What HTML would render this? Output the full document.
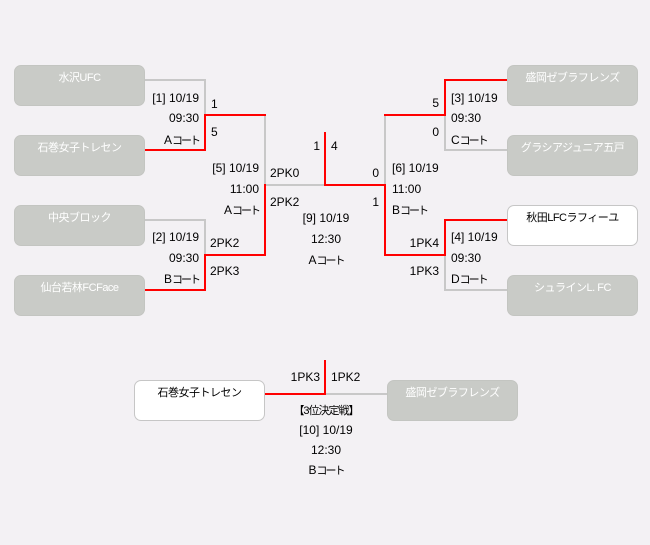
<!DOCTYPE html>
<html>
<head>
<meta charset="utf-8">
<style>
html,body{margin:0;padding:0;}
body{width:650px;height:545px;background:#f3f1f4;position:relative;overflow:hidden;font-family:"Liberation Sans","Noto Sans CJK JP",sans-serif;}
.b{position:absolute;box-sizing:border-box;width:131px;height:41px;border-radius:7px;font-size:11px;line-height:14px;text-align:center;padding-top:5px;letter-spacing:-0.5px;}
.g{background:#c9cbc7;border:1px solid #c3c5c1;color:#fff;}
.w{background:#fff;border:1px solid #c6c6c6;color:#000;}
.t{position:absolute;font-size:12px;line-height:14px;color:#000;white-space:nowrap;}
.r{text-align:right;}
.c{width:120px;text-align:center;}
.k{font-size:11px;letter-spacing:-2px;}
svg{position:absolute;left:0;top:0;}
</style>
</head>
<body>
<svg width="650" height="545" viewBox="0 0 650 545">
<g fill="none" stroke-width="2" stroke-linejoin="miter" stroke-linecap="square">
<polyline points="145,80 205,80 205,115" stroke="#c8c8c8"/>
<polyline points="265,115 265,185 325,185" stroke="#c8c8c8"/>
<polyline points="145,220 205,220 205,255" stroke="#c8c8c8"/>
<polyline points="385,115 385,185" stroke="#c8c8c8"/>
<polyline points="507,150 445,150 445,115" stroke="#c8c8c8"/>
<polyline points="507,290 445,290 445,255" stroke="#c8c8c8"/>
<polyline points="325,394 387,394" stroke="#c8c8c8"/>
<polyline points="145,150 205,150 205,115 265,115" stroke="#ff0000"/>
<polyline points="145,290 205,290 205,255 265,255 265,185" stroke="#ff0000"/>
<polyline points="325,133 325,185 385,185" stroke="#ff0000"/>
<polyline points="507,80 445,80 445,115 385,115" stroke="#ff0000"/>
<polyline points="507,220 445,220 445,255 385,255 385,185" stroke="#ff0000"/>
<polyline points="264,394 325,394 325,361" stroke="#ff0000"/>
</g>
</svg>

<div class="b g" style="left:14px;top:65px;">水沢UFC</div>
<div class="b g" style="left:14px;top:135px;">石巻女子トレセン</div>
<div class="b g" style="left:14px;top:205px;">中央ブロック</div>
<div class="b g" style="left:14px;top:275px;">仙台若林FCFace</div>
<div class="b g" style="left:507px;top:65px;">盛岡ゼブラフレンズ</div>
<div class="b g" style="left:507px;top:135px;">グラシアジュニア五戸</div>
<div class="b w" style="left:507px;top:205px;">秋田LFCラフィーユ</div>
<div class="b g" style="left:507px;top:275px;">シュラインL. FC</div>
<div class="b w" style="left:134px;top:380px;">石巻女子トレセン</div>
<div class="b g" style="left:387px;top:380px;">盛岡ゼブラフレンズ</div>

<div class="t" style="left:211px;top:97px;">1</div>
<div class="t" style="left:211px;top:125px;">5</div>
<div class="t" style="left:270px;top:166px;">2PK0</div>
<div class="t" style="left:270px;top:195px;">2PK2</div>
<div class="t" style="left:210px;top:236px;">2PK2</div>
<div class="t" style="left:210px;top:264px;">2PK3</div>
<div class="t" style="left:331px;top:139px;">4</div>
<div class="t" style="left:392px;top:161px;">[6] 10/19</div>
<div class="t" style="left:392px;top:182px;">11:00</div>
<div class="t" style="left:392px;top:203px;">B<span class="k">コート</span></div>
<div class="t" style="left:451px;top:91px;">[3] 10/19</div>
<div class="t" style="left:451px;top:111px;">09:30</div>
<div class="t" style="left:451px;top:133px;">C<span class="k">コート</span></div>
<div class="t" style="left:451px;top:230px;">[4] 10/19</div>
<div class="t" style="left:451px;top:251px;">09:30</div>
<div class="t" style="left:451px;top:272px;">D<span class="k">コート</span></div>
<div class="t" style="left:331px;top:370px;">1PK2</div>

<div class="t r" style="right:451px;top:91px;">[1] 10/19</div>
<div class="t r" style="right:451px;top:111px;">09:30</div>
<div class="t r" style="right:451px;top:133px;">A<span class="k">コート</span></div>
<div class="t r" style="right:391px;top:161px;">[5] 10/19</div>
<div class="t r" style="right:391px;top:182px;">11:00</div>
<div class="t r" style="right:391px;top:203px;">A<span class="k">コート</span></div>
<div class="t r" style="right:451px;top:230px;">[2] 10/19</div>
<div class="t r" style="right:451px;top:251px;">09:30</div>
<div class="t r" style="right:451px;top:272px;">B<span class="k">コート</span></div>
<div class="t r" style="right:330px;top:139px;">1</div>
<div class="t r" style="right:271px;top:166px;">0</div>
<div class="t r" style="right:271px;top:195px;">1</div>
<div class="t r" style="right:211px;top:96px;">5</div>
<div class="t r" style="right:211px;top:125px;">0</div>
<div class="t r" style="right:211px;top:236px;">1PK4</div>
<div class="t r" style="right:211px;top:264px;">1PK3</div>
<div class="t r" style="right:330px;top:370px;">1PK3</div>

<div class="t c" style="left:266px;top:211px;">[9] 10/19</div>
<div class="t c" style="left:266px;top:232px;">12:30</div>
<div class="t c" style="left:266px;top:253px;">A<span class="k">コート</span></div>
<div class="t c" style="left:266px;top:403px;"><span style="font-size:11px;letter-spacing:-1px;">【3位決定戦】</span></div>
<div class="t c" style="left:266px;top:423px;">[10] 10/19</div>
<div class="t c" style="left:266px;top:443px;">12:30</div>
<div class="t c" style="left:266px;top:463px;">B<span class="k">コート</span></div>
</body>
</html>
